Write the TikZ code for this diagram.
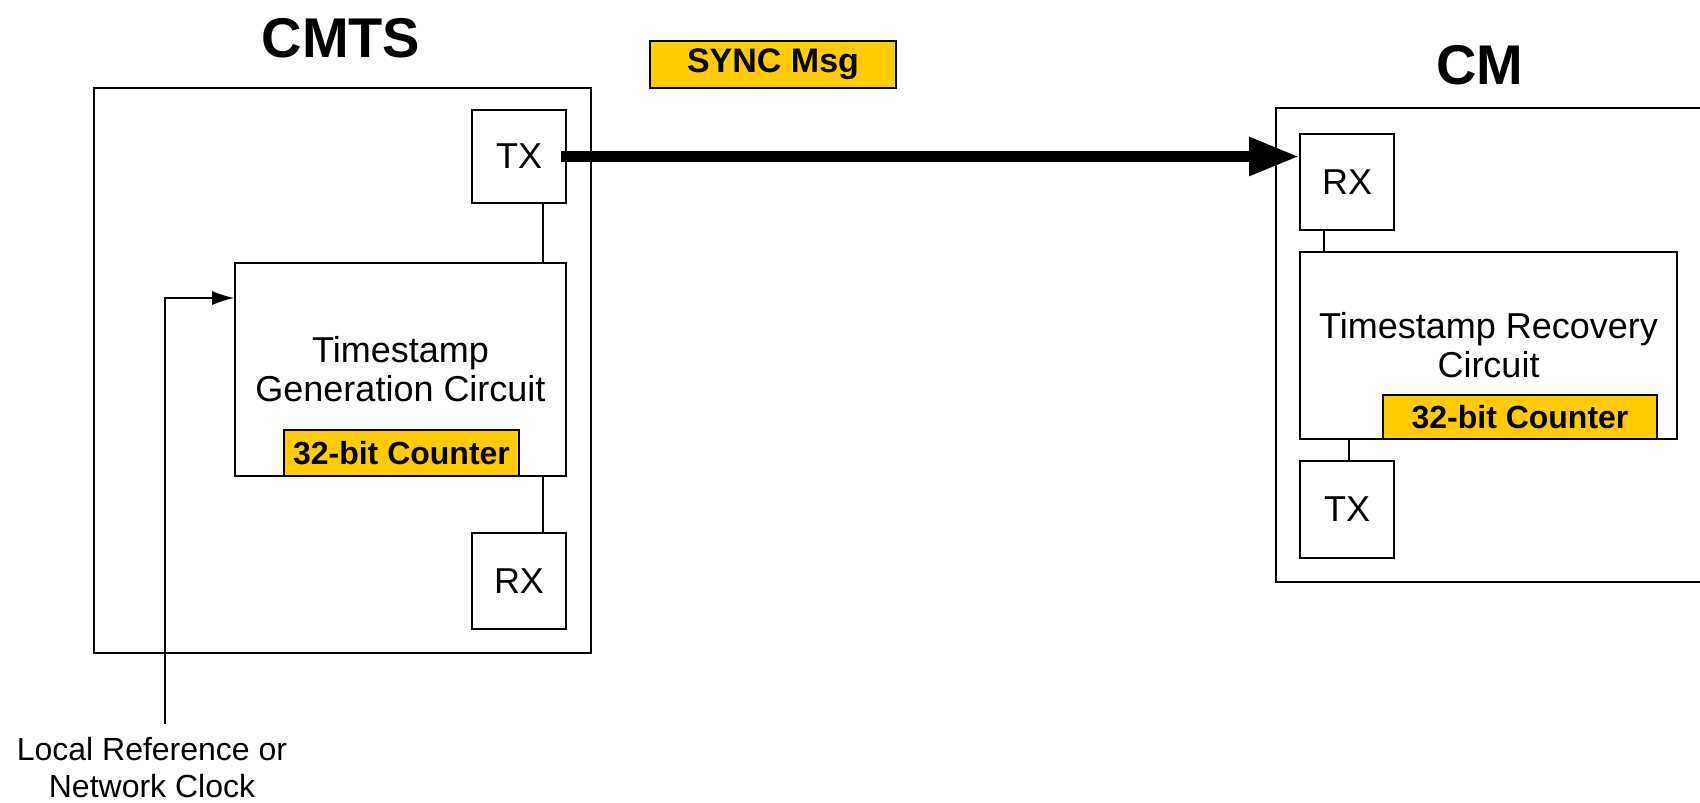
\documentclass[tikz,border=0pt]{standalone}
\usepackage{fontspec}
\setmainfont{Liberation Sans}
\usetikzlibrary{arrows.meta}
\definecolor{msgyellow}{RGB}{255,204,0}
\tikzset{
  box/.style={draw, line width=0.8pt, inner sep=0pt, align=center},
  port/.style={box, minimum width=47pt, minimum height=47pt, font=\fontsize{18}{20}\selectfont},
  circuit/.style={box, font=\fontsize{18}{19.5}\selectfont},
  counter/.style={box, fill=msgyellow, minimum height=23pt, font=\bfseries\fontsize{16}{18}\selectfont},
  title/.style={font=\bfseries\fontsize{28}{32}\selectfont},
  link/.style={line width=0.8pt}
}
\begin{document}
\begin{tikzpicture}[x=0.5pt, y=-0.5pt]
    \useasboundingbox (0,0) rectangle (1700,802);

    % CMTS
    \node[title] (cmtsTitle) at (341,38) {CMTS};
    \node[box, minimum width=248.5pt, minimum height=282.5pt] (cmts) at (342.5,370.5) {};
    \node[port, minimum height=46.5pt] (cmtsTX) at (519,156.5) {TX};
    \node[circuit, minimum width=165.5pt, minimum height=106.5pt] (gen) at (400.5,369.5) {Timestamp\\Generation Circuit};
    \node[counter, minimum width=117.5pt] (cntA) at (401.5,453) {32-bit Counter};
    \node[port, minimum height=48pt] (cmtsRX) at (519,581) {RX};
    \draw[link] ([xshift=12pt]cmtsTX.south) -- ([xshift=12pt]cmtsTX.south |- gen.north);
    \draw[link] ([xshift=12pt]cmtsRX.north |- gen.south) -- ([xshift=12pt]cmtsRX.north);

    % clock input
    \node[font=\fontsize{16}{18.5}\selectfont, align=center] (clkLabel) at (152,768) {Local Reference or\\Network Clock};
    \coordinate (clk) at (165,724);
    \coordinate (clkTurn) at (165,298);
    \draw[link, -{Latex[length=11pt,width=7pt]}] (clk) -- (clkTurn) -- (clkTurn -| gen.west);

    % CM
    \node[title] (cmTitle) at (1480,65) {CM};
    \node[box, minimum width=217pt, minimum height=237pt] (cm) at (1493,345) {};
    \node[port, minimum height=48pt] (cmRX) at (1347,182) {RX};
    \node[circuit, minimum width=188.5pt, minimum height=93.5pt] (rec) at (1488.5,345.5) {Timestamp Recovery\\Circuit};
    \node[counter, minimum width=137pt, minimum height=22pt] (cntB) at (1520,417) {32-bit Counter};
    \node[port, minimum height=48.5pt] (cmTX) at (1347,509.5) {TX};
    \draw[link] ([xshift=-11.5pt]cmRX.south) -- ([xshift=-11.5pt]cmRX.south |- rec.north);
    \draw[link] ([xshift=1pt]cmTX.north |- rec.south) -- ([xshift=1pt]cmTX.north);

    % SYNC message
    \node[counter, minimum width=123pt, minimum height=23.5pt, font=\bfseries\fontsize{17}{19}\selectfont] (sync) at (773,64.5) {SYNC Msg};
    \draw[line width=5.5pt, -{Triangle[length=25pt,width=18pt]}] ([xshift=-3pt]cmtsTX.east) -- (cmtsTX.east -| cmRX.west);
\end{tikzpicture}
\end{document}
